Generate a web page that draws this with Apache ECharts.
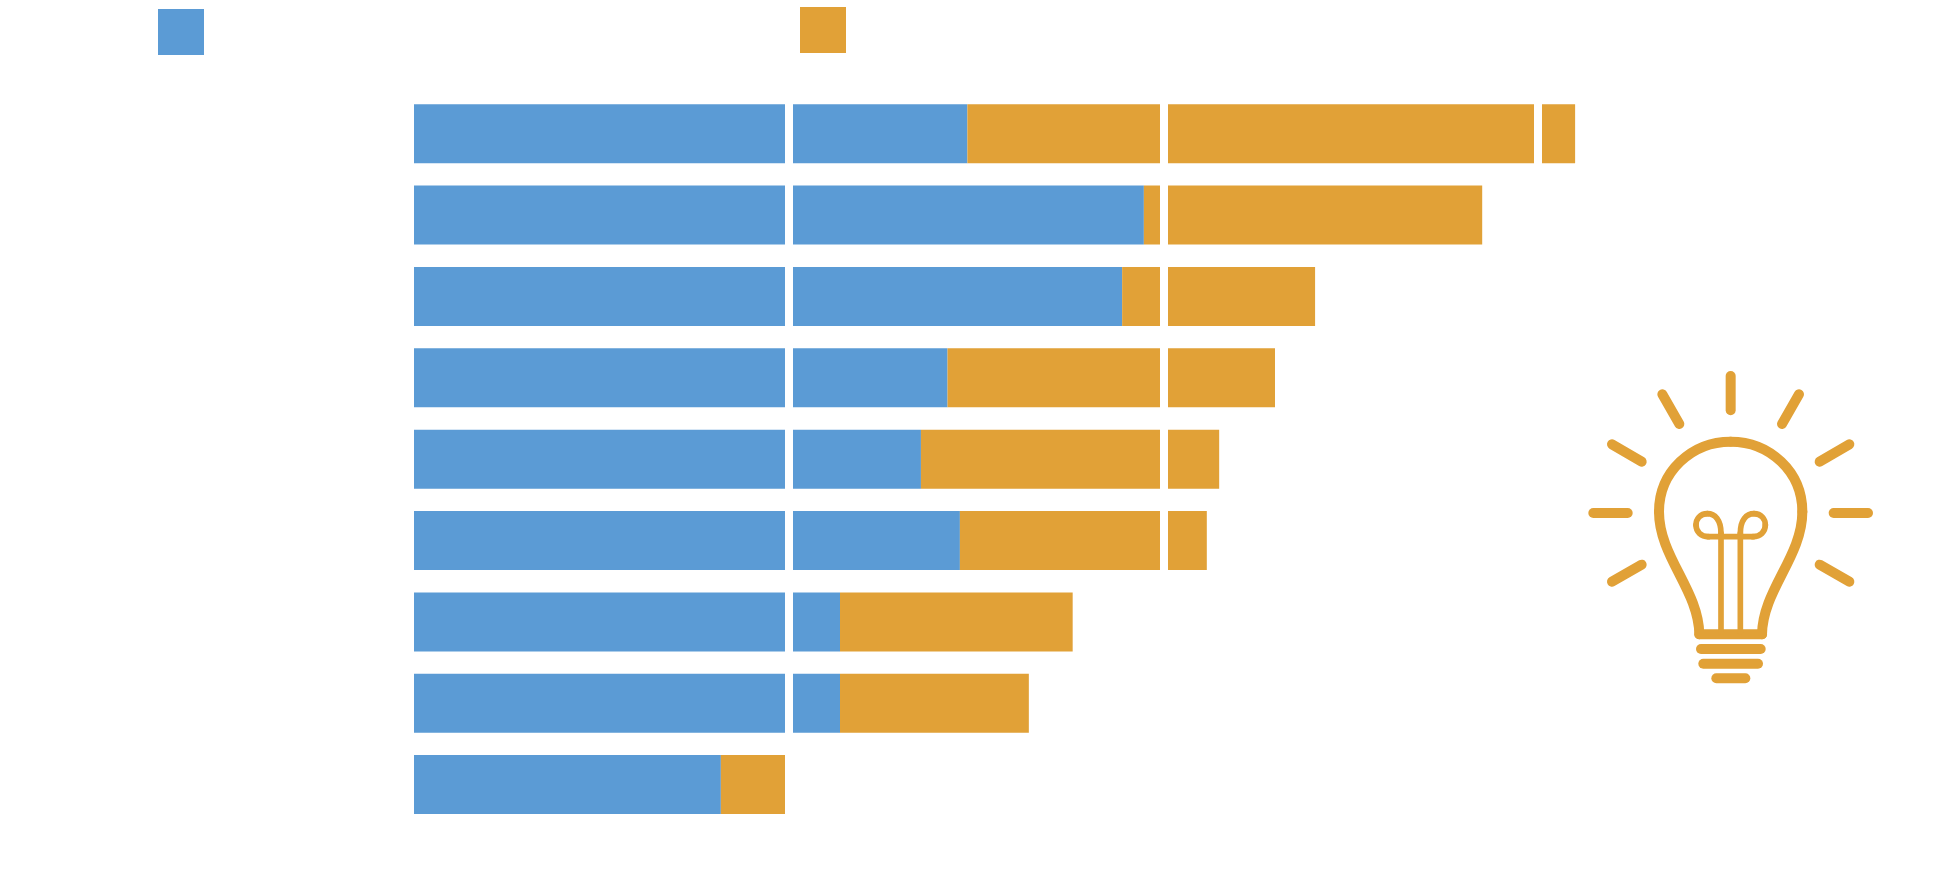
<!DOCTYPE html>
<html>
<head>
<meta charset="utf-8">
<title>Stacked bars</title>
<style>
  html, body { margin: 0; padding: 0; background: #fff; }
  #chart { width: 1960px; height: 895px; }
</style>
<script src="https://cdn.jsdelivr.net/npm/echarts@6/dist/echarts.min.js"></script>
</head>
<body>
<div id="chart"></div>
<script>
// the picture has no text, so the names below never show
const categories = ['A', 'B', 'C', 'D', 'E', 'F', 'G', 'H', 'I'];
const blueValues = [147.7, 194.8, 189, 142.4, 135.3, 145.7, 113.7, 113.7, 81.9];
const orangeValues = [162.2, 90.3, 51.5, 87.4, 79.6, 65.9, 62.1, 50.4, 18.1];

const BLUE = '#5B9BD5';
const ORANGE = '#E1A137';

// bulb icon, drawn in a 3x box and scaled down by the group
function iconLine (x1, y1, x2, y2, width) {
  return {
    type: 'line',
    shape: { x1, y1, x2, y2 },
    style: { stroke: ORANGE, lineWidth: width, lineCap: 'round' }
  };
}

function iconCurve (p, width) {
  return {
    type: 'bezierCurve',
    shape: { x1: p[0], y1: p[1], cpx1: p[2], cpy1: p[3], cpx2: p[4], cpy2: p[5], x2: p[6], y2: p[7] },
    style: { stroke: ORANGE, fill: null, lineWidth: width, lineCap: 'round' }
  };
}

const bulb = [
  // rays
  iconLine(392, 108, 392, 211, 30),
  iconLine(187, 163, 238, 252, 30),
  iconLine(597, 163, 546, 252, 30),
  iconLine(36, 313, 125, 365, 30),
  iconLine(748, 313, 659, 365, 30),
  iconLine(-20, 519, 83, 519, 30),
  iconLine(701, 519, 804, 519, 30),
  iconLine(36, 725, 125, 674, 30),
  iconLine(748, 725, 659, 674, 30),
  // glass
  iconCurve([298, 883, 296, 750, 177, 650, 177, 515], 30),
  iconCurve([177, 515, 177, 395, 275, 305, 392, 305], 30),
  iconCurve([392, 305, 509, 305, 607, 395, 607, 515], 30),
  iconCurve([607, 515, 607, 650, 488, 750, 486, 883], 30),
  iconLine(298, 883, 486, 883, 30),
  // filament
  iconLine(363, 875, 363, 580, 17),
  iconCurve([363, 580, 363, 540, 345, 521, 322, 521], 17),
  iconCurve([322, 521, 300, 521, 288, 537, 288, 555], 17),
  iconCurve([288, 555, 288, 575, 303, 590, 325, 590], 17),
  iconLine(325, 590, 459, 590, 17),
  iconCurve([459, 590, 481, 590, 496, 575, 496, 555], 17),
  iconCurve([496, 555, 496, 537, 484, 521, 462, 521], 17),
  iconCurve([462, 521, 439, 521, 421, 540, 421, 580], 17),
  iconLine(421, 580, 421, 875, 17),
  // screw base
  iconLine(303, 927, 482, 927, 30),
  iconLine(310, 971, 474, 971, 30),
  iconLine(349, 1015, 436, 1015, 30)
];

const chart = echarts.init(document.getElementById('chart'));

chart.setOption({
  animation: false,
  backgroundColor: '#fff',
  legend: [
    {
      data: ['blue'],
      left: 158,
      top: 9,
      padding: 0,
      itemWidth: 46,
      itemHeight: 46,
      icon: 'rect',
      formatter: () => ''
    },
    {
      data: ['orange'],
      left: 800,
      top: 7,
      padding: 0,
      itemWidth: 46,
      itemHeight: 46,
      icon: 'rect',
      formatter: () => ''
    }
  ],
  grid: { left: 414, top: 93, width: 1498.7, height: 732.3 },
  xAxis: {
    type: 'value',
    min: 0,
    max: 400,
    interval: 100,
    z: 10, // white grid lines cut through the bars
    axisLine: { show: false },
    axisTick: { show: false },
    axisLabel: { show: false },
    splitLine: {
      show: true,
      showMinLine: false,
      showMaxLine: false,
      lineStyle: { color: '#fff', width: 8 }
    }
  },
  yAxis: {
    type: 'category',
    inverse: true,
    data: categories,
    show: false
  },
  series: [
    {
      name: 'blue',
      type: 'bar',
      stack: 'total',
      barWidth: 59,
      itemStyle: { color: BLUE },
      data: blueValues
    },
    {
      name: 'orange',
      type: 'bar',
      stack: 'total',
      barWidth: 59,
      itemStyle: { color: ORANGE },
      data: orangeValues
    }
  ],
  graphic: [
    {
      type: 'group',
      x: 1600,
      y: 340,
      scaleX: 1 / 3,
      scaleY: 1 / 3,
      children: bulb
    }
  ]
});
</script>
</body>
</html>
